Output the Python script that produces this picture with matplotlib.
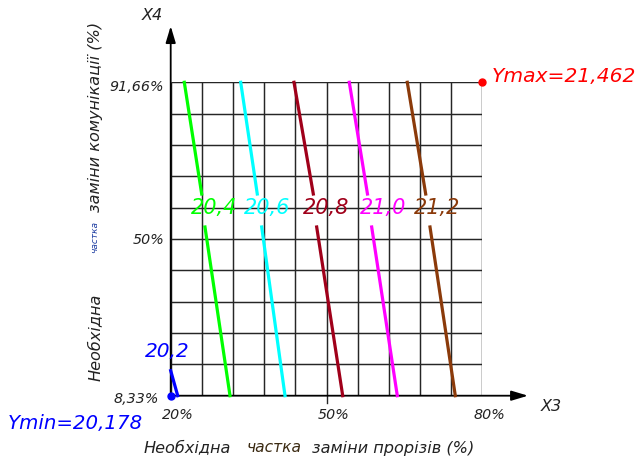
import matplotlib
matplotlib.use("Agg")
import matplotlib.pyplot as plt
import numpy as np

# ---------------- data ----------------
x_ticks_grid = [20, 26, 32, 38, 44, 50, 56, 62, 68, 74, 80]
y_ticks_grid = [8.33, 16.663, 24.996, 33.329, 41.662, 49.995, 58.328, 66.661, 74.994, 83.327, 91.66]

levels = ["20,4", "20,6", "20,8", "21,0", "21,2"]
level_colors = ["#00ff00", "#00ffff", "#a0001a", "#ff00ff", "#8b3a0a"]
# upper segment: (x_top @ y_top) -> (x_mid1 @ y_mid1); lower: (x_mid2 @ y_mid2) -> (x_bot @ y_bot)
x_top = [22.62, 33.48, 43.74, 54.39, 65.56]
x_mid1 = [25.97, 36.67, 47.46, 57.89, 69.10]
x_mid2 = [26.60, 37.52, 48.11, 58.70, 69.93]
x_bot = [31.42, 42.01, 53.12, 63.63, 74.80]
y_top, y_mid1, y_mid2, y_bot = 91.66, 61.96, 53.19, 8.33
label_x = [28.34, 38.64, 49.90, 60.88, 71.28]
label_y = 58.6

level_min = "20,2"
min_line_x = [20.0, 21.35]
min_line_y = [14.98, 8.33]

ymin_point = (20.0, 8.33)
ymax_point = (80.0, 91.66)
ymin_text = "Ymin=20,178"
ymax_text = "Ymax=21,462"

# ---------------- figure ----------------
W, H = 637, 460
fig = plt.figure(figsize=(W / 100, H / 100), dpi=100)
fig.patch.set_facecolor("white")

def fx(px):
    return px / W

def fy(py):
    return 1 - py / H

left, right, top, bottom = 170.7, 482.3, 83.3, 396.7
ax = fig.add_axes([fx(left), fy(bottom), (right - left) / W, (bottom - top) / H])
ax.set_xlim(20, 80)
ax.set_ylim(8.33, 91.66)
ax.axis("off")

FONT = ["DejaVu Sans"]
grid_c = "#262626"
for xv in x_ticks_grid:
    ax.plot([xv, xv], [8.33, 91.66], color=grid_c, lw=1.05, zorder=1, solid_capstyle="butt")
for yv in y_ticks_grid:
    ax.plot([20, 80], [yv, yv], color=grid_c, lw=1.05, zorder=1, solid_capstyle="butt")
# small tick below 50%
ax.plot([50, 50], [8.33, 6.3], color=grid_c, lw=1.0, clip_on=False)

# axes arrows
ax.annotate("", xy=(88.8, 8.33), xytext=(20, 8.33),
            arrowprops=dict(arrowstyle="-|>,head_length=1.0,head_width=0.3", color="black", lw=1.3,
                            shrinkA=0, shrinkB=0), annotation_clip=False)
ax.annotate("", xy=(20, 106.6), xytext=(20, 8.33),
            arrowprops=dict(arrowstyle="-|>,head_length=1.0,head_width=0.3", color="black", lw=1.3,
                            shrinkA=0, shrinkB=0), annotation_clip=False)

# contour lines
for i in range(len(levels)):
    c = level_colors[i]
    ax.plot([x_top[i], x_mid1[i]], [y_top, y_mid1], color=c, lw=2.3, zorder=3, clip_on=False)
    ax.plot([x_mid2[i], x_bot[i]], [y_mid2, y_bot], color=c, lw=2.3, zorder=3, clip_on=False)
    ax.text(label_x[i], label_y, levels[i], color=c, fontsize=15, style="italic",
            family=FONT, ha="center", va="center", zorder=4)

ax.plot(min_line_x, min_line_y, color="#0000ff", lw=2.3, zorder=3, clip_on=False)
ax.text(19.3, 20.3, level_min, color="#0000ff", fontsize=14.5, style="italic",
        family=FONT, ha="center", va="center")

ax.plot(*ymin_point, "o", color="#0000ff", ms=5, clip_on=False, zorder=5)
ax.plot(*ymax_point, "o", color="#ff0000", ms=5, clip_on=False, zorder=5)

# text annotations (figure pixel positions)
def ftext(px, py, s, **kw):
    kw.setdefault("family", FONT)
    kw.setdefault("style", "italic")
    fig.text(fx(px), fy(py), s, **kw)

ftext(492, 77, ymax_text, color="#ff0000", fontsize=14.6, ha="left", va="center")
ftext(8, 424, ymin_text, color="#0000ff", fontsize=14.2, ha="left", va="center")

ftext(164, 87, "91,66%", color="#222222", fontsize=10.3, ha="right", va="center")
ftext(164, 240, "50%", color="#222222", fontsize=10.3, ha="right", va="center")
ftext(159, 399, "8,33%", color="#222222", fontsize=10.3, ha="right", va="center")
ftext(177.5, 415, "20%", color="#222222", fontsize=10.3, ha="center", va="center")
ftext(334, 415, "50%", color="#222222", fontsize=10.3, ha="center", va="center")
ftext(489, 415, "80%", color="#222222", fontsize=10.3, ha="center", va="center")

ftext(551, 407, "X3", color="#222222", fontsize=11.5, ha="center", va="center")
ftext(152, 15, "X4", color="#222222", fontsize=11.5, ha="center", va="center")

# x axis title
ftext(144, 448, "Необхідна", color="#222222", fontsize=11.6, ha="left", va="center")
ftext(247, 448, "частка", color="#3b2a12", fontsize=11.2, ha="left", va="center")
ftext(312, 448, "заміни прорізів (%)", color="#222222", fontsize=11.6, ha="left", va="center")

# y axis title (rotated)
ftext(95, 381, "Необхідна", color="#222222", fontsize=11.6, ha="center", va="bottom", rotation=90)
ftext(95, 253, "частка", color="#1a3aa0", fontsize=6.5, ha="center", va="bottom", rotation=90)
ftext(95, 212, "заміни комунікації (%)", color="#222222", fontsize=11.6, ha="center", va="bottom", rotation=90)

fig.savefig("out.png", dpi=100, facecolor="white")
